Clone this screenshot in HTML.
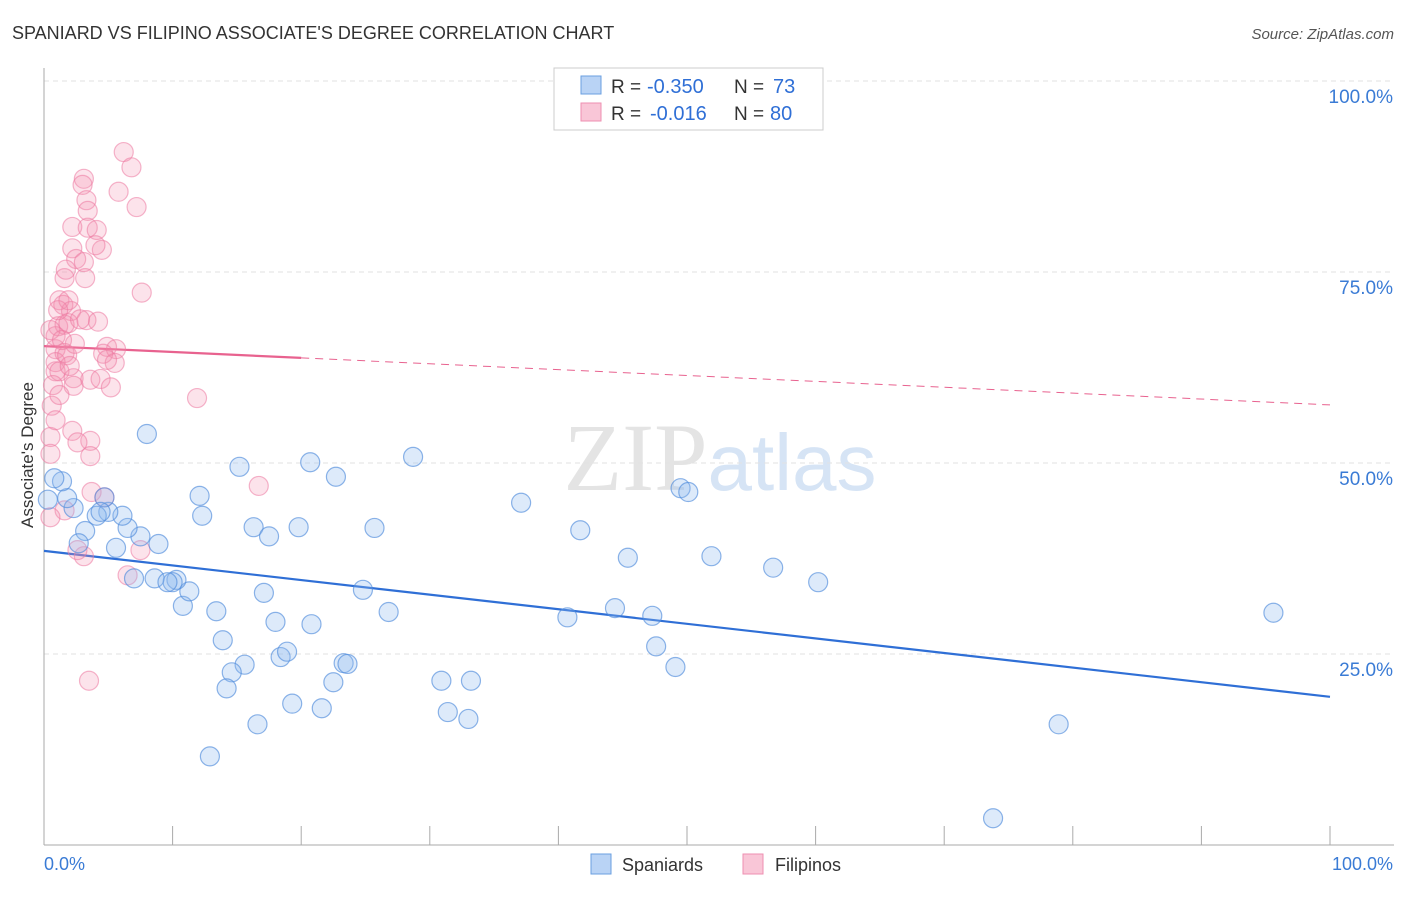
<!DOCTYPE html>
<html><head><meta charset="utf-8"><style>
body{margin:0;background:#fff;font-family:"Liberation Sans",sans-serif}
svg text{font-family:"Liberation Sans",sans-serif}
</style></head><body>
<svg id="chart" width="1406" height="892" xmlns="http://www.w3.org/2000/svg">
<text x="12" y="39" font-size="18" fill="#333">SPANIARD VS FILIPINO ASSOCIATE'S DEGREE CORRELATION CHART</text>
<text x="1394" y="39" font-size="15" fill="#555" font-style="italic" text-anchor="end">Source: ZipAtlas.com</text>
<text x="720" y="490" font-size="96" text-anchor="middle" fill="#e4e4e4"><tspan font-family="Liberation Serif">ZIP</tspan><tspan fill="#d6e4f5" font-size="80">atlas</tspan></text>
<g id="grid"></g><g id="axes"></g>
<text transform="translate(33,455) rotate(-90)" font-size="17" fill="#333" text-anchor="middle">Associate's Degree</text>
<g id="trend"></g><g id="pts"></g>
<g>
<rect x="554" y="68" width="269" height="62" fill="#fff" stroke="#ccc"/>
<rect x="581" y="76" width="20" height="18" fill="#b9d3f5" stroke="#6a9fe0"/>
<rect x="581" y="103" width="20" height="18" fill="#f9c6d7" stroke="#ee8fb0"/>
<text x="611" y="93" font-size="19" fill="#333">R =</text>
<text x="647" y="93" font-size="20" fill="#2f6fd6">-0.350</text>
<text x="734" y="93" font-size="19" fill="#333">N =</text>
<text x="773" y="93" font-size="20" fill="#2f6fd6">73</text>
<text x="611" y="120" font-size="19" fill="#333">R =</text>
<text x="650" y="120" font-size="20" fill="#2f6fd6">-0.016</text>
<text x="734" y="120" font-size="19" fill="#333">N =</text>
<text x="770" y="120" font-size="20" fill="#2f6fd6">80</text>
</g>
<g>
<rect x="591" y="854" width="20" height="20" fill="#b9d3f5" stroke="#6a9fe0"/>
<text x="622" y="871" font-size="18" fill="#333">Spaniards</text>
<rect x="743" y="854" width="20" height="20" fill="#f9c6d7" stroke="#ee8fb0"/>
<text x="775" y="871" font-size="18" fill="#333">Filipinos</text>
</g>
</svg>
<script>
const xTicks=[0,10,20,30,40,50,60,70,80,90,100];
const yTicks=[25,50,75,100];
const yTickLabels=["25.0%","50.0%","75.0%","100.0%"];
const blueX=[8.0,15.2,20.7,22.7,28.7,37.1,41.7,45.4,49.5,50.1,51.9,56.7,60.2,95.6,78.9,73.8,12.9,16.6,19.3,21.6,31.4,33.0,30.9,33.2,22.5,23.3,23.6,18.4,18.9,15.6,14.6,14.2,13.9,13.4,18.0,20.8,17.1,10.8,11.3,10.3,10.0,8.6,9.6,7.0,5.6,8.9,7.5,6.5,6.1,5.0,4.1,3.2,2.7,2.3,1.8,1.4,0.8,0.3,12.1,12.3,4.7,16.3,17.5,19.8,25.7,24.8,26.8,40.7,44.4,47.3,47.6,49.1,4.4];
const blueY=[53.8,49.5,50.1,48.2,50.8,44.8,41.2,37.6,46.7,46.2,37.8,36.3,34.4,30.4,15.8,3.5,11.6,15.8,18.5,17.9,17.4,16.5,21.5,21.5,21.3,23.8,23.7,24.6,25.3,23.6,22.6,20.5,26.8,30.6,29.2,28.9,33.0,31.3,33.2,34.7,34.4,34.9,34.4,34.9,38.9,39.4,40.4,41.5,43.1,43.6,43.1,41.1,39.5,44.1,45.4,47.6,48.0,45.2,45.7,43.1,45.5,41.6,40.4,41.6,41.5,33.4,30.5,29.8,31.0,30.0,26.0,23.3,43.6];
const pinkX=[6.2,6.8,5.8,7.2,3.1,3.0,3.3,3.4,2.2,3.4,4.1,4.5,2.2,2.5,3.1,1.6,3.2,7.6,1.2,1.5,2.1,3.3,1.1,1.6,1.9,0.9,1.6,4.9,5.6,4.6,5.5,0.9,0.9,1.2,2.3,3.6,2.3,4.4,5.2,0.7,0.6,11.9,0.5,2.2,3.6,2.6,0.5,3.6,3.7,4.7,1.6,0.5,3.1,2.6,6.5,7.5,3.5,16.7,1.9,1.7,2.8,0.9,4.2,1.2,4.0,1.8,2.4,0.5,1.1,1.4,2.0,0.9,4.9];
const pinkY=[90.7,88.7,85.5,83.5,87.2,86.4,84.4,83.0,80.9,80.8,80.5,77.9,78.1,76.7,76.3,74.2,74.2,72.3,71.3,70.7,69.9,68.7,67.9,68.1,68.3,64.9,64.4,65.2,64.9,64.3,63.1,63.2,62.0,62.0,61.1,60.9,60.1,61.0,59.9,60.2,57.5,58.5,53.4,54.2,52.9,52.7,51.2,50.9,46.2,45.5,43.8,42.9,37.8,38.6,35.3,38.6,21.5,47.0,71.3,75.3,68.8,66.6,68.5,58.9,78.5,64.1,65.6,67.4,70.0,66.1,62.7,55.6,63.5];
const blueTrend=[38.5,19.4];
const pinkTrend=[65.3,57.6];
const sx=v=>44+v*12.86, sy=v=>845-v*7.64;
const NS="http://www.w3.org/2000/svg";
function mk(t,a,p){const e=document.createElementNS(NS,t);for(const k in a)e.setAttribute(k,a[k]);p.appendChild(e);return e;}
const grid=document.getElementById('grid'),axes=document.getElementById('axes');
yTicks.forEach((t,i)=>{
 const l=mk('line',{x1:44,x2:1394,y1:sy(t),y2:sy(t),stroke:'#e2e2e2','stroke-dasharray':'5,4'},grid);
 
 
 const tx=mk('text',{x:1393,y:sy(t)+22,'font-size':19,fill:'#3a7bd5','text-anchor':'end'},axes);
 tx.textContent=yTickLabels[i];
 
 
});
const ax=mk('line',{x1:44,x2:44,y1:68,y2:845,stroke:'#aaa'},axes);


const bx=mk('line',{x1:44,x2:1394,y1:845,y2:845,stroke:'#aaa'},axes);


xTicks.forEach(t=>{const l=mk('line',{x1:sx(t),x2:sx(t),y1:826,y2:845,stroke:'#aaa'},axes);
 
 });
const x0=mk('text',{x:44,y:870,'font-size':18,fill:'#3a7bd5'},axes);x0.textContent='0.0%';


const x1=mk('text',{x:1393,y:870,'font-size':18,fill:'#3a7bd5','text-anchor':'end'},axes);x1.textContent='100.0%';


const pts=document.getElementById('pts');
pinkX.forEach((x,i)=>{const c=mk('circle',{cx:sx(x),cy:sy(pinkY[i]),r:9.5,fill:'rgba(244,143,177,0.25)',stroke:'rgba(236,120,160,0.55)','stroke-width':1.2},pts);
 
 });
blueX.forEach((x,i)=>{const c=mk('circle',{cx:sx(x),cy:sy(blueY[i]),r:9.5,fill:'rgba(144,186,240,0.3)',stroke:'rgba(80,140,220,0.65)','stroke-width':1.2},pts);
 
 });
const tr=document.getElementById('trend');
const bt=mk('line',{x1:sx(0),y1:sy(blueTrend[0]),x2:sx(100),y2:sy(blueTrend[1]),stroke:'#2f6fd6','stroke-width':2.2},tr);


const pm=pinkTrend[0]+(pinkTrend[1]-pinkTrend[0])*0.2;
const pt=mk('line',{x1:sx(0),y1:sy(pinkTrend[0]),x2:sx(20),y2:sy(pm),stroke:'#e8628f','stroke-width':2.2},tr);


const pd=mk('line',{x1:sx(20),y1:sy(pm),x2:sx(100),y2:sy(pinkTrend[1]),stroke:'#e8628f','stroke-width':1,'stroke-dasharray':'8,6'},tr);


</script>
</body></html>
